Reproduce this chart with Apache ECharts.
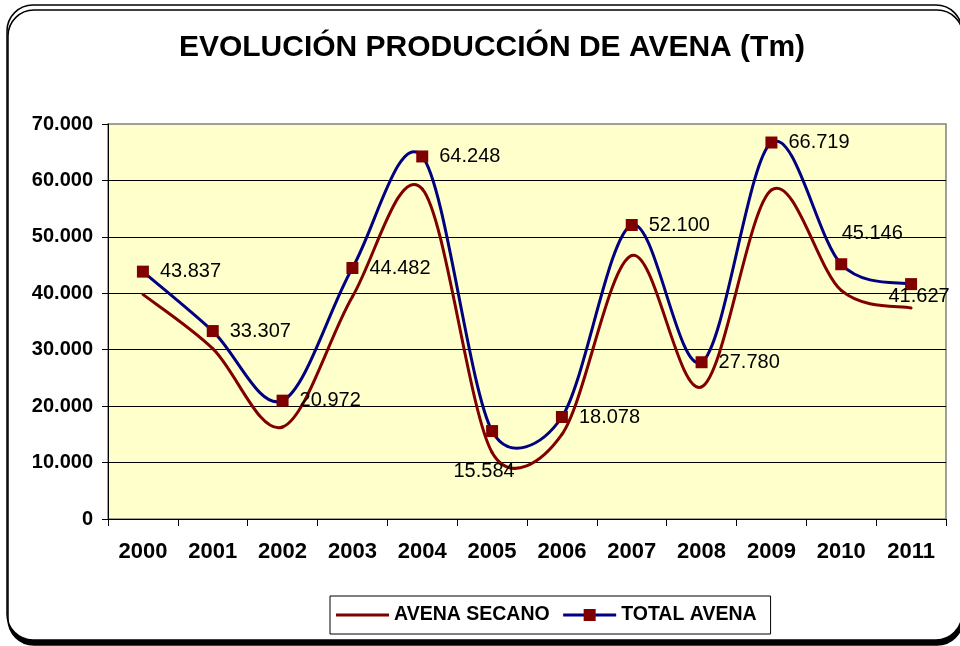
<!DOCTYPE html>
<html>
<head>
<meta charset="utf-8">
<title>Evolución producción de avena</title>
<script src="https://cdn.jsdelivr.net/npm/echarts@6/dist/echarts.min.js"></script>
<style>
  html, body { margin: 0; padding: 0; background: #ffffff; }
  #chart { width: 960px; height: 646px; }
</style>
</head>
<body>
<div id="chart"></div>
<script>
// Campañas (años)
const years = ['2000', '2001', '2002', '2003', '2004', '2005', '2006', '2007', '2008', '2009', '2010', '2011'];

// Producción de avena de secano (Tm)
const avenaSecano = [39800, 30200, 16300, 39400, 58500, 11800, 15000, 46700, 23400, 58300, 40500, 37400];

// Producción total de avena (Tm)
const totalAvena = [43837, 33307, 20972, 44482, 64248, 15584, 18078, 52100, 27780, 66719, 45146, 41627];

// Marcas del eje de valores
const yTicks = [0, 10000, 20000, 30000, 40000, 50000, 60000, 70000];

const FONT = '"Liberation Sans", Arial, Helvetica, sans-serif';

// Separador de miles con punto
function miles(v) {
  return String(Math.round(v)).replace(/\B(?=(\d{3})+(?!\d))/g, '.');
}

// Etiquetas que no van a la derecha del punto
const labelMoves = {
  5: { position: 'inside', offset: [-8, 40] },
  10: { position: 'inside', offset: [31, -31] },
  11: { position: 'inside', offset: [8, 12] }
};

const totalData = totalAvena.map(function (v, i) {
  const item = { value: v };
  if (labelMoves[i]) {
    item.label = labelMoves[i];
  }
  return item;
});

// Curva suavizada: cada tramo es una Bézier cúbica entre dos puntos, con la
// tangente tomada de los vecinos (1/6) y limitada a media cuerda del tramo.
function splineSeries(name, values, color, z) {
  return {
    name: name,
    type: 'custom',
    z: z,
    silent: true,
    itemStyle: { color: color },
    encode: { x: 0, y: 1 },
    data: values.map(function (v, i) { return [i, v]; }),
    renderItem: function (params, api) {
      const i = params.dataIndex;
      const n = values.length;
      if (i >= n - 1) return null;
      const pt = function (j) {
        j = Math.max(0, Math.min(n - 1, j));
        return api.coord([j, values[j]]);
      };
      const p0 = pt(i - 1), p1 = pt(i), p2 = pt(i + 1), p3 = pt(i + 2);
      const chord = Math.hypot(p2[0] - p1[0], p2[1] - p1[1]);
      const cap = chord * 0.5;
      const handle = function (a, b) {
        let dx = (b[0] - a[0]) / 6, dy = (b[1] - a[1]) / 6;
        const len = Math.hypot(dx, dy);
        if (len > cap && len > 0) {
          dx *= cap / len;
          dy *= cap / len;
        }
        return [dx, dy];
      };
      const h1 = handle(p0, p2);
      const h2 = handle(p1, p3);
      return {
        type: 'bezierCurve',
        shape: {
          x1: p1[0], y1: p1[1],
          cpx1: p1[0] + h1[0], cpy1: p1[1] + h1[1],
          cpx2: p2[0] - h2[0], cpy2: p2[1] - h2[1],
          x2: p2[0], y2: p2[1]
        },
        style: { fill: null, stroke: color, lineWidth: 3, lineCap: 'round', lineJoin: 'round' }
      };
    }
  };
}

const chart = echarts.init(document.getElementById('chart'), null, { renderer: 'canvas' });

chart.setOption({
  animation: false,
  textStyle: { fontFamily: FONT },
  graphic: [{
    type: 'rect',
    z: -10,
    silent: true,
    shape: { x: 7, y: 5, width: 955, height: 635, r: 26 },
    style: {
      fill: '#ffffff',
      stroke: '#000000',
      lineWidth: 1.5,
      shadowColor: '#000000',
      shadowOffsetX: 1,
      shadowOffsetY: 5,
      shadowBlur: 0
    }
  }],
  title: {
    text: 'EVOLUCIÓN PRODUCCIÓN DE AVENA (Tm)',
    left: 487,
    top: 28,
    textAlign: 'center',
    textStyle: { fontFamily: FONT, fontSize: 30, fontWeight: 'bold', color: '#000000' }
  },
  legend: {
    left: 330,
    top: 596,
    padding: [9, 14, 9, 6],
    itemWidth: 53,
    itemHeight: 15,
    itemGap: 12,
    borderColor: '#000000',
    borderWidth: 1,
    backgroundColor: '#ffffff',
    lineStyle: { opacity: 1, width: 3 },
    textStyle: { fontFamily: FONT, fontSize: 19.5, fontWeight: 'bold', color: '#000000' },
    data: [
      { name: 'AVENA SECANO', icon: 'path://M0,0 L53,0 L53,3 L0,3 Z' },
      { name: 'TOTAL AVENA' }
    ]
  },
  grid: {
    left: 108,
    top: 124,
    width: 838,
    height: 395,
    show: true,
    backgroundColor: '#FFFFCC',
    borderColor: '#808080',
    borderWidth: 1.5
  },
  xAxis: {
    type: 'category',
    data: years,
    boundaryGap: true,
    axisLine: { lineStyle: { color: '#000000', width: 1 } },
    axisTick: { show: true, length: 7, lineStyle: { color: '#000000' } },
    axisLabel: {
      margin: 22,
      fontFamily: FONT,
      fontSize: 22,
      fontWeight: 'bold',
      color: '#000000'
    },
    splitLine: { show: false }
  },
  yAxis: {
    type: 'value',
    min: yTicks[0],
    max: yTicks[yTicks.length - 1],
    interval: yTicks[1] - yTicks[0],
    axisLine: { show: true, lineStyle: { color: '#000000', width: 1 } },
    axisTick: { show: true, length: 6, lineStyle: { color: '#000000' } },
    axisLabel: {
      margin: 15,
      fontFamily: FONT,
      fontSize: 20,
      fontWeight: 'bold',
      color: '#000000',
      formatter: miles
    },
    splitLine: { show: true, showMaxLine: false, lineStyle: { color: '#000000', width: 1 } }
  },
  series: [
    {
      // Puntos y etiquetas del total; su trazo lo dibuja la curva de abajo
      name: 'TOTAL AVENA',
      type: 'line',
      data: totalData,
      symbol: 'rect',
      symbolSize: 12,
      color: '#800000',
      itemStyle: { color: '#800000' },
      lineStyle: { color: '#000080', width: 3, opacity: 0 },
      z: 5,
      label: {
        show: true,
        position: 'right',
        distance: 11,
        fontFamily: FONT,
        fontSize: 20,
        color: '#000000',
        formatter: function (p) { return miles(p.value); }
      }
    },
    splineSeries('AVENA SECANO', avenaSecano, '#800000', 2),
    splineSeries('TOTAL AVENA', totalAvena, '#000080', 3)
  ]
});
</script>
</body>
</html>
